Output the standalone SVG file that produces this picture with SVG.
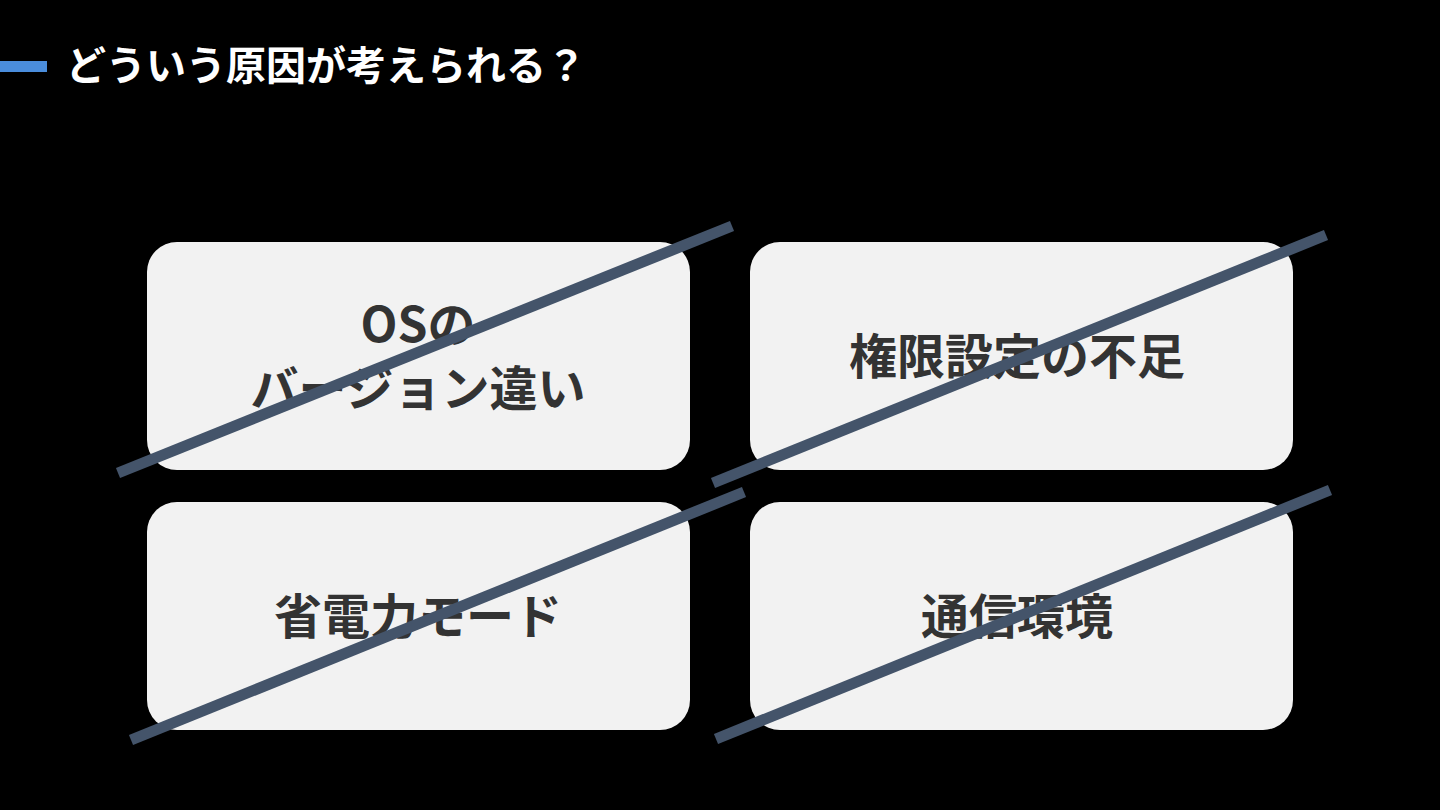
<svg xmlns="http://www.w3.org/2000/svg" width="1440" height="810" viewBox="0 0 1440 810">
<style>
.box{fill:#f2f2f2}
.lbl{font-family:"Noto Sans CJK JP","Noto Sans",sans-serif;font-weight:700;font-size:48px;fill:#333333;text-anchor:middle}
.title{font-family:"Noto Sans CJK JP","Noto Sans",sans-serif;font-weight:700;font-size:40px;fill:#ffffff}
.strike{stroke:#44546a;stroke-width:11;fill:none}
</style>
<rect x="0" y="0" width="1440" height="810" fill="#000000"/>
<g id="title">
<rect x="0" y="61" width="47" height="11" fill="#4a8ddc"/>
<text class="title" x="66" y="80">どういう原因が考えられる？</text>
</g>
<g id="node-os">
<rect class="box" x="147" y="242" width="543" height="228" rx="30"/>
<text class="lbl" x="418" y="342">OSの</text>
<text class="lbl" x="418" y="406">バージョン違い</text>
</g>
<g id="node-perm">
<rect class="box" x="750" y="242" width="543" height="228" rx="30"/>
<text class="lbl" x="1017" y="374">権限設定の不足</text>
</g>
<g id="node-power">
<rect class="box" x="147" y="502" width="543" height="228" rx="30"/>
<text class="lbl" x="418" y="634">省電力モード</text>
</g>
<g id="node-net">
<rect class="box" x="750" y="502" width="543" height="228" rx="30"/>
<text class="lbl" x="1017" y="634">通信環境</text>
</g>
<g id="connectors">
<line class="strike" x1="118" y1="473" x2="732" y2="226"/>
<line class="strike" x1="713" y1="483" x2="1326" y2="235"/>
<line class="strike" x1="131" y1="740" x2="744" y2="492"/>
<line class="strike" x1="716" y1="739" x2="1330" y2="490"/>
</g>
</svg>
